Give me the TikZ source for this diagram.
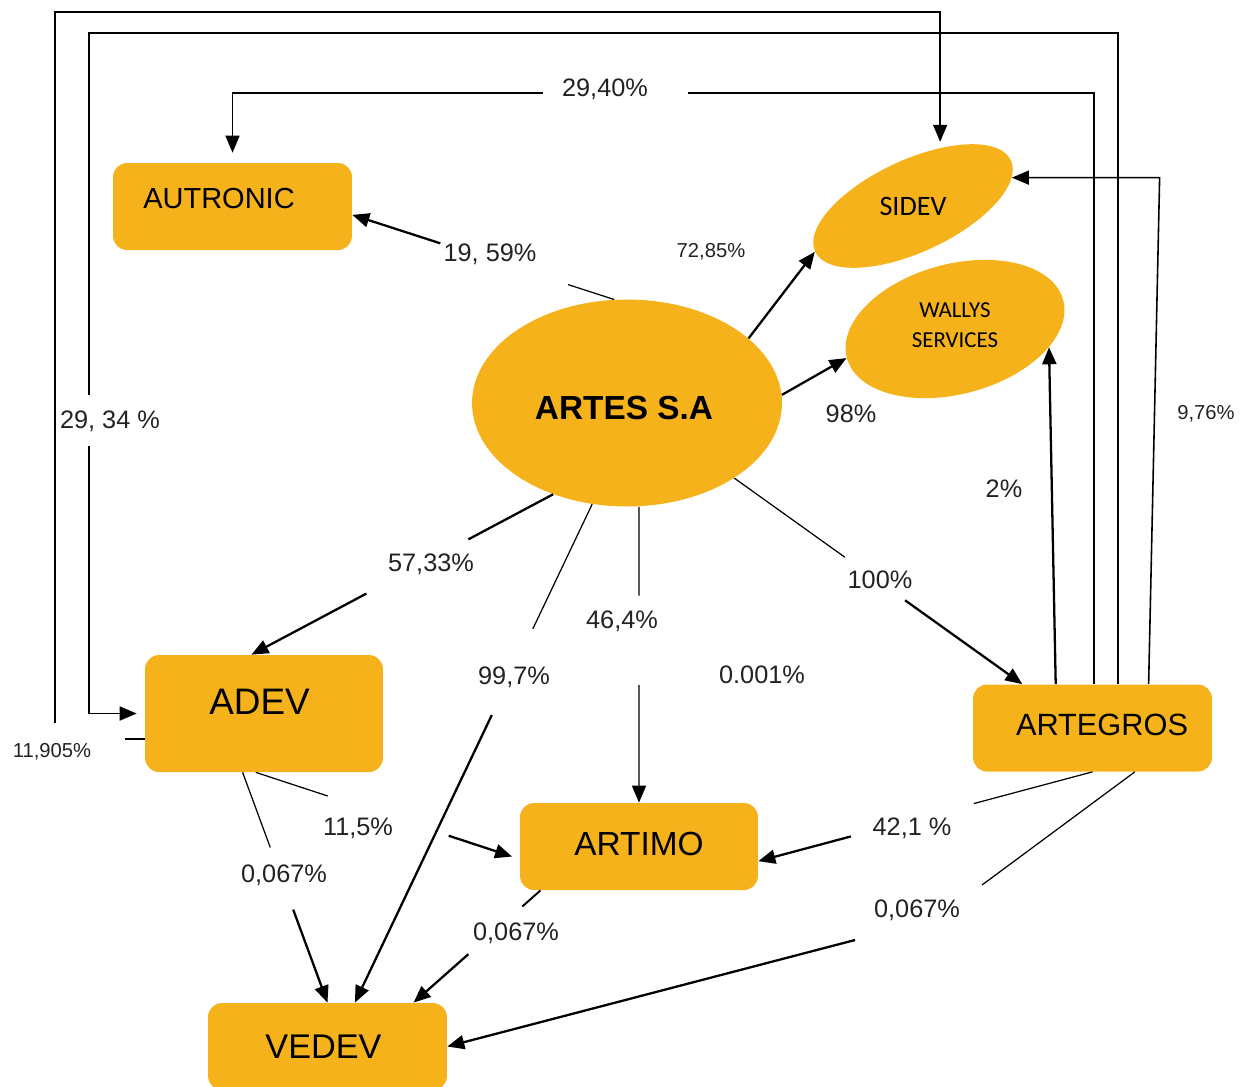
\documentclass[tikz,border=0pt]{standalone}
\usepackage{fontspec}
\setmainfont{Liberation Sans}
\newfontfamily\carlito{Carlito}
\usetikzlibrary{shapes.geometric,arrows.meta,calc}
\definecolor{gold}{RGB}{246,178,26}
\definecolor{ink}{RGB}{34,34,34}
\tikzset{
  firm/.style={fill=gold, rounded corners=0.28cm, inner sep=0pt, minimum width=4.78cm, minimum height=1.74cm},
  oval/.style={ellipse, fill=gold, inner sep=0pt},
  pct/.style={font=\fontsize{14.4}{16}\selectfont, text=ink, inner sep=0pt},
  pctsmall/.style={font=\fontsize{11.5}{13}\selectfont, text=ink, inner sep=0pt},
  part/.style={line width=0.7pt},
  route/.style={line width=0.9pt},
  arrowpart/.style={line width=1.3pt, -{Triangle[length=0.34cm,width=0.28cm]}},
}
\begin{document}
\begin{tikzpicture}[x=0.02cm, y=-0.02cm]
\useasboundingbox (0,0) rectangle (1247,1086);

% companies
\node[oval, minimum width=6.2cm, minimum height=4.14cm, label={[font=\fontsize{19}{22}\selectfont\bfseries, xshift=-0.06cm, yshift=-0.1cm]center:ARTES S.A}] (artes) at (627,403) {};
\node[firm, label={[font=\fontsize{16.5}{19}\selectfont, xshift=-0.27cm, yshift=0.15cm]center:AUTRONIC}] (autronic) at (232.5,206.5) {};
\node[oval, rotate=25, minimum width=4.32cm, minimum height=1.84cm, label={[font=\carlito\fontsize{16}{19}\selectfont]center:SIDEV}] (sidev) at (913,206) {};
\node[oval, rotate=15, minimum width=4.48cm, minimum height=2.6cm, label={[font=\carlito\fontsize{13}{17}\selectfont, align=center, yshift=0.08cm]center:WALLYS\\SERVICES}] (wallys) at (955,329) {};
\node[firm, minimum width=4.76cm, minimum height=2.34cm, label={[font=\fontsize{21}{24}\selectfont, xshift=-0.09cm, yshift=0.24cm]center:ADEV}] (adev) at (264,713.5) {};
\node[firm, minimum width=4.76cm, label={[font=\fontsize{19}{22}\selectfont, yshift=0.06cm]center:ARTIMO}] (artimo) at (639,846.5) {};
\node[firm, label={[font=\fontsize{17.5}{20}\selectfont, xshift=0.19cm, yshift=0.06cm]center:ARTEGROS}] (artegros) at (1092.5,728) {};
\node[firm, label={[font=\fontsize{19.5}{22}\selectfont, xshift=-0.08cm]center:VEDEV}] (vedev) at (327.5,1046.5) {};

% shares
\node[pct] (p1959) at (490,254) {19, 59\%};
\node[pctsmall] (p7285) at (711,252) {72,85\%};
\node[pct] (p98) at (851,414) {98\%};
\node[pct] (p2940) at (605,89) {29,40\%};
\node[pct] (p2934) at (110,421) {29, 34 \%};
\node[pctsmall] (p11905) at (52,752) {11,905\%};
\node[pctsmall] (p976) at (1206,414) {9,76\%};
\node[pct] (p2) at (1004,489) {2\%};
\node[pct] (p5733) at (431,564) {57,33\%};
\node[pct] (p464) at (622,621) {46,4\%};
\node[pct] (p997) at (514,677) {99,7\%};
\node[pct] (p0001) at (762,675) {0.001\%};
\node[pct] (p100) at (880,580) {100\%};
\node[pct] (p115) at (358,828) {11,5\%};
\node[pct] (p421) at (912,828) {42,1 \%};
\node[pct] (p067a) at (284,875) {0,067\%};
\node[pct] (p067b) at (516,933) {0,067\%};
\node[pct] (p067c) at (917,910) {0,067\%};

% gap ends and bends
\coordinate (artes464) at (artes.south -| artimo.north);
\coordinate (gap2940r) at (688,93);
\coordinate (gap2940l) at (543,93);
\coordinate (gap2934t) at (89,395);
\coordinate (gap2934b) at (89,446);
\coordinate (gap11905) at (55,723);
\coordinate (bend067a) at (982,885);
\coordinate (bend067b) at (855,940);

% links from ARTES
\draw[part] (artes.97) -- ($(artes.97)!.176!(autronic.-4)$);
\draw[arrowpart] ($(artes.97)!.664!(autronic.-4)$) -- (autronic.-4);
\draw[arrowpart] (artes.28) -- (sidev.west);
\draw[arrowpart] (artes.3) -- (wallys.west);
\draw[part, line width=1.3pt] (artes.231) -- ($(artes.231)!.281!(adev.102)$);
\draw[arrowpart] ($(artes.231)!.619!(adev.102)$) -- (adev.102);
\draw[part] (artes.251) -- ($(artes.251)!.25!(vedev.58)$);
\draw[arrowpart] ($(artes.251)!.423!(vedev.58)$) -- (vedev.58);
\draw[part] (artes464) -- ($(artes464)!.3!(artimo.north)$);
\draw[arrowpart, line width=0.8pt] ($(artes464)!.603!(artimo.north)$) -- (artimo.north);
\draw[part] (artes.-35) -- ($(artes.-35)!.384!(artegros.148)$);
\draw[arrowpart] ($(artes.-35)!.593!(artegros.148)$) -- (artegros.148);

% links from ARTEGROS
\draw[arrowpart] (artegros.130) -- (wallys.-26);
\draw[route, -{Triangle[length=0.34cm,width=0.28cm]}] (artegros.38) -- ($(artegros.38 |- sidev.-9)+(11,0)$) -- (sidev.-9);
\draw[route] (artegros.88) |- (gap2940r);
\draw[arrowpart, line width=1pt, shorten >=0.2cm] (gap2940l) -| (autronic.north);
\draw[route] (artegros.60) |- (89,33) -- (gap2934t);
\draw[arrowpart, line width=1pt, shorten >=0.16cm] (gap2934b) |- (adev.west);
\draw[part] (artegros.south) -- ($(artegros.south)!.355!(artimo.-7)$);
\draw[arrowpart] ($(artegros.south)!.723!(artimo.-7)$) -- (artimo.-7);
\draw[part] (artegros.-46) -- (bend067a);
\draw[arrowpart] (bend067b) -- (vedev.east);

% links from ADEV and ARTIMO
\draw[route] (adev.192) -- ++(-20,0);
\draw[route, -{Triangle[length=0.34cm,width=0.28cm]}, shorten >=0.12cm] (gap11905) -- (55,12) -| (sidev.40);
\draw[part] (adev.262) -- ($(adev.262)!.273!(artimo.186)$);
\draw[arrowpart, shorten >=0.16cm] ($(adev.262)!.731!(artimo.186)$) -- (artimo.186);
\draw[part] (adev.250) -- ($(adev.250)!.326!(vedev.north)$);
\draw[arrowpart] ($(adev.250)!.596!(vedev.north)$) -- (vedev.north);
\draw[part, line width=1.1pt] (artimo.204) -- ($(artimo.204)!.144!(vedev.27)$);
\draw[arrowpart] ($(artimo.204)!.568!(vedev.27)$) -- (vedev.27);
\end{tikzpicture}
\end{document}
